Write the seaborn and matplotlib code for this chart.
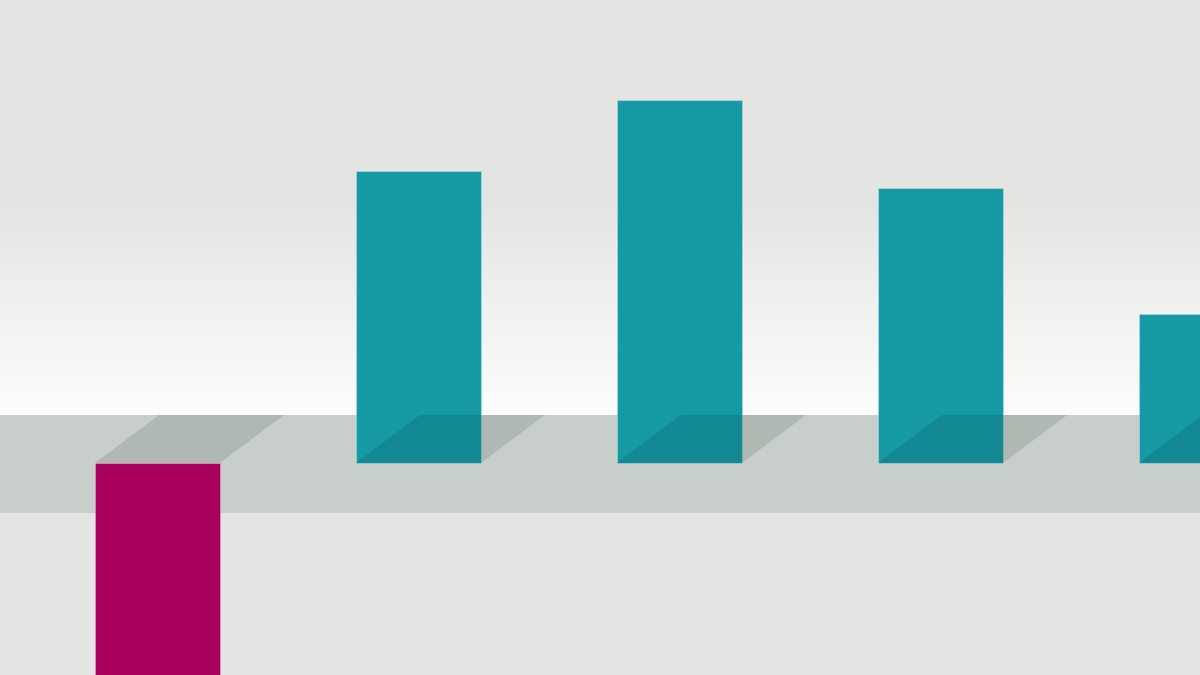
import numpy as np
import matplotlib
matplotlib.use("Agg")
import matplotlib.pyplot as plt
from matplotlib.patches import Polygon
from matplotlib.colors import LinearSegmentedColormap
import seaborn as sns

# ---- data ----
categories = ["A", "B", "C", "D", "E"]
values = [-2.5, 2.92, 3.63, 2.75, 1.49]

NEG_COLOR = "#a8005c"
POS_COLOR = "#1599a5"
bar_colors = [NEG_COLOR if v < 0 else POS_COLOR for v in values]

sns.set_theme(style="white")

fig = plt.figure(figsize=(12, 6.75), dpi=100, facecolor="#e4e4e2")
ax = fig.add_axes([0, 0, 1, 1])

ymin, ymax = -2.12, 4.63
xmin, xmax = -0.603, 3.994

# background gradient (upper area)
grad_top, grad_bot = 2.63, 0.48
cmap = LinearSegmentedColormap.from_list("bg", ["#fdfdfd", "#e4e4e2"])
g = np.linspace(0, 1, 256).reshape(-1, 1)
ax.imshow(g, cmap=cmap, aspect="auto", origin="lower",
          extent=[xmin, xmax, grad_bot, grad_top], zorder=0)
ax.axhspan(grad_top, ymax, color="#e4e4e2", lw=0, zorder=0)
ax.axhspan(ymin, -0.5, color="#e4e4e2", lw=0, zorder=0)

# floor band
ax.axhspan(-0.5, 0.48, color="#c8cfca", lw=0, zorder=0.5)

sns.barplot(x=categories, y=values, hue=categories, palette=bar_colors,
            width=0.479, legend=False, ax=ax, saturation=1,
            edgecolor="#ffffff40", linewidth=0.8, zorder=2)

# shadows, one per bar
dx, dy = 64 / 261, 0.48
bars = [p for c in ax.containers for p in c]
for p in bars:
    x0, w = p.get_x(), p.get_width()
    poly = Polygon([(x0, 0), (x0 + w, 0), (x0 + w + dx, dy), (x0 + dx, dy)],
                   closed=True, facecolor="#00140a", alpha=0.12, lw=0, zorder=3)
    ax.add_patch(poly)

ax.set_xlim(xmin, xmax)
ax.set_ylim(ymin, ymax)
ax.axis("off")

fig.savefig("out.png", dpi=100, facecolor=fig.get_facecolor())
